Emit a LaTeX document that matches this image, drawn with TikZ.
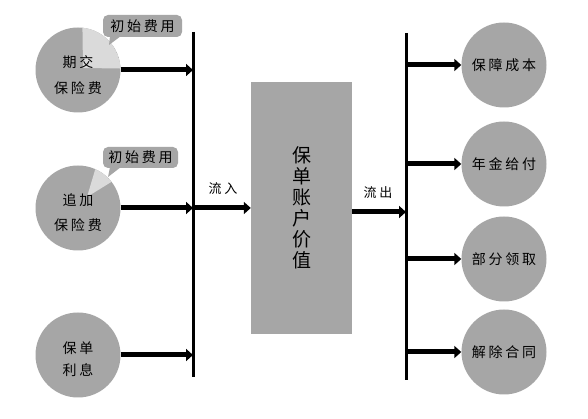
\documentclass[tikz,border=0pt]{standalone}
\usepackage{fontspec}
\newfontfamily\cjk[LetterSpace=20]{Noto Sans CJK SC}
\newfontfamily\cjkbig{Noto Sans CJK SC}
\usetikzlibrary{arrows.meta}
\definecolor{pie}{HTML}{A6A6A6}
\definecolor{slice}{HTML}{DADADA}
\begin{document}
\begin{tikzpicture}[x=1pt,y=1pt,
  ball/.style={circle,fill=pie,minimum size=85pt,inner sep=0pt,align=center,
    font=\cjk\fontsize{14}{25}\selectfont},
  balltext/.style={inner sep=0pt,align=center,font=\cjk\fontsize{14}{#1}\selectfont},
  flow/.style={line width=5pt,-{Triangle[length=7pt,width=12pt]}},
  bar/.style={line width=3pt},
  tag/.style={fill=pie,rounded corners=5pt,inner sep=0pt,
    font=\cjk\fontsize{14}{15}\selectfont},
  lbl/.style={font=\cjk\fontsize{13}{15}\selectfont,inner sep=0pt}]
\useasboundingbox[fill=white] (0,0) rectangle (588,419);

% left circles
\node[ball,path picture={\fill[slice] ([shift={(5,2)}]path picture bounding box.center)
   -- ([shift={(2:42.5)}]path picture bounding box.center)
   arc[start angle=2,end angle=84,radius=42.5] -- cycle;}] (c1) at (78,349) {};
\node[balltext=26] (c1t) at ([yshift=-5]c1.center) {期交\\保险费};
\node[ball,path picture={\fill[slice] ([shift={(9,11)}]path picture bounding box.center)
   -- ([shift={(38:42.5)}]path picture bounding box.center)
   arc[start angle=38,end angle=66,radius=42.5] -- cycle;}] (c2) at (78,211) {};
\node[balltext=25] (c2t) at ([yshift=-5]c2.center) {追加\\保险费};
\node[ball] (c3) at (78,64) {};
\node[balltext=22] (c3t) at ([yshift=-4]c3.center) {保单\\利息};

% callouts
\node[tag,minimum width=79pt,minimum height=22pt] (t1) at (142.5,393) {初始费用};
\coordinate (t1tip) at (109,374);
\fill[pie] (110,383) -- (121,383) -- (t1tip) -- cycle;
\node[tag,minimum width=75pt,minimum height=21pt] (t2) at (140.5,261.5) {初始费用};
\coordinate (t2tip) at (108,242);
\fill[pie] (110,252) -- (121,252) -- (t2tip) -- cycle;

% left bar
\coordinate (lt) at (193,387);
\coordinate (lb) at (193,42);
\draw[bar] (lt) -- (lb);
\coordinate (l1) at (193,349);
\coordinate (l2) at (193,211);
\coordinate (l3) at (193,64);
\draw[flow] (c1.east) -- (l1);
\draw[flow] (c2.east) -- (l2);
\draw[flow] (c3.east) -- (l3);

% central box
\node[fill=pie,minimum width=101pt,minimum height=252pt,inner sep=0pt,align=center,
  font=\cjkbig\fontsize{19}{21}\selectfont] (box) at (301.5,211)
  {保\\单\\账\\户\\价\\值};
\draw[flow] (l2) -- (box.west);
\node[lbl] (in) at (223,230) {流入};

% right bar
\coordinate (rt) at (406,386);
\coordinate (rb) at (406,39);
\draw[bar] (rt) -- (rb);
\coordinate (ro) at (406,207);
\draw[flow] (box.east |- ro) -- (ro);
\node[lbl] (out) at (378,226) {流出};

% right circles
\node[ball] (d1) at (504,354) {保障成本};
\node[ball] (d2) at (504,255) {年金给付};
\node[ball] (d3) at (504,160) {部分领取};
\node[ball] (d4) at (504,67) {解除合同};
\foreach \n in {1,2,3,4}{
  \coordinate (r\n) at (d\n.west -| rt);
  \draw[flow] (r\n) -- (d\n.west);
}
\end{tikzpicture}
\end{document}
